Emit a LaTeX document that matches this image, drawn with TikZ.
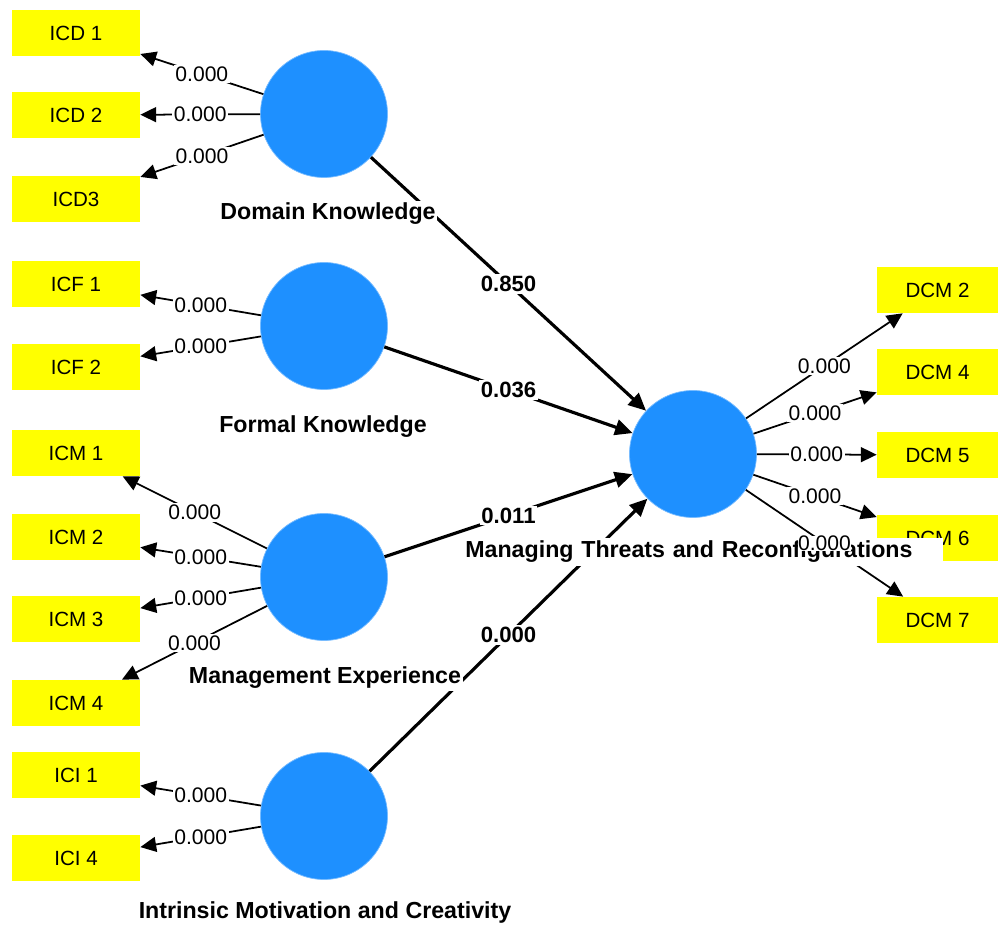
\documentclass[tikz,border=0pt]{standalone}
\usepackage{fontspec}
\setmainfont{Liberation Sans}
\usepackage{xcolor}
\usepackage{tikz}
\usetikzlibrary{arrows.meta}
\usetikzlibrary{positioning}
\definecolor{lvblue}{RGB}{30,144,255}
\definecolor{mvyellow}{RGB}{255,255,0}

\begin{document}
\begin{tikzpicture}[
  ind/.style={rectangle,fill=mvyellow,minimum width=2.56cm,minimum height=0.92cm,inner sep=0pt,font=\fontsize{11.7}{14}\selectfont},
  lv/.style={circle,fill=lvblue,draw=lvblue!60,minimum size=2.54cm,inner sep=0pt},
  lvname/.style={fill=white,inner sep=1pt,font=\fontsize{13.2}{16}\selectfont\bfseries},
  load/.style={fill=white,inner sep=1pt,font=\fontsize{12}{14}\selectfont},
  coef/.style={fill=white,inner sep=1pt,font=\fontsize{12.6}{15}\selectfont\bfseries},
  ldline/.style={-{Triangle[length=9pt,width=8.5pt]},line width=1pt},
  pathline/.style={-{Triangle[length=10pt,width=9pt]},line width=1.8pt}
]
  \useasboundingbox (0,0) rectangle (19.96,18.66);

  % constructs
  \node[lv] (dk)  at (6.48,16.38) {};
  \node[lv] (fk)  at (6.48,12.14) {};
  \node[lv] (me)  at (6.48,7.12)  {};
  \node[lv] (imc) at (6.48,2.34)  {};
  \node[lv] (mt)  at (13.86,9.58) {};

  % indicators, left
  \node[ind] (icd1) at (1.52,18.00) {ICD 1};
  \node[ind] (icd2) at (1.52,16.36) {ICD 2};
  \node[ind] (icd3) at (1.52,14.68) {ICD3};
  \node[ind] (icf1) at (1.52,12.98) {ICF 1};
  \node[ind] (icf2) at (1.52,11.32) {ICF 2};
  \node[ind] (icm1) at (1.52,9.60)  {ICM 1};
  \node[ind] (icm2) at (1.52,7.92)  {ICM 2};
  \node[ind] (icm3) at (1.52,6.28)  {ICM 3};
  \node[ind] (icm4) at (1.52,4.60)  {ICM 4};
  \node[ind] (ici1) at (1.52,3.16)  {ICI 1};
  \node[ind] (ici4) at (1.52,1.50)  {ICI 4};

  % indicators, right
  \node[ind,minimum width=2.42cm] (dcm2) at (18.75,12.86) {DCM 2};
  \node[ind,minimum width=2.42cm] (dcm4) at (18.75,11.22) {DCM 4};
  \node[ind,minimum width=2.42cm] (dcm5) at (18.75,9.56)  {DCM 5};
  \node[ind,minimum width=2.42cm] (dcm6) at (18.75,7.90)  {DCM 6};
  \node[ind,minimum width=2.42cm] (dcm7) at (18.75,6.26)  {DCM 7};

  % outer loadings
  \draw[ldline] (dk) -- (icd1) node[load,midway] {0.000};
  \draw[ldline] (dk) -- (icd2) node[load,midway] {0.000};
  \draw[ldline] (dk) -- (icd3) node[load,midway] {0.000};
  \draw[ldline] (fk) -- (icf1) node[load,midway] {0.000};
  \draw[ldline] (fk) -- (icf2) node[load,midway] {0.000};
  \draw[ldline] (me) -- (icm1) node[load,midway] {0.000};
  \draw[ldline] (me) -- (icm2) node[load,midway] {0.000};
  \draw[ldline] (me) -- (icm3) node[load,midway] {0.000};
  \draw[ldline] (me) -- (icm4) node[load,midway] {0.000};
  \draw[ldline] (imc) -- (ici1) node[load,midway] {0.000};
  \draw[ldline] (imc) -- (ici4) node[load,midway] {0.000};
  \draw[ldline] (mt) -- (dcm2) node[load,midway] {0.000};
  \draw[ldline] (mt) -- (dcm4) node[load,midway] {0.000};
  \draw[ldline] (mt) -- (dcm5) node[load,midway] {0.000};
  \draw[ldline] (mt) -- (dcm6) node[load,midway] {0.000};
  \draw[ldline] (mt) -- (dcm7);

  % inner model
  \draw[pathline] (dk)  -- (mt) node[coef,midway] {0.850};
  \draw[pathline] (fk)  -- (mt) node[coef,midway] {0.036};
  \draw[pathline] (me)  -- (mt) node[coef,midway] {0.011};
  \draw[pathline] (imc) -- (mt) node[coef,midway] {0.000};

  % construct names
  \node[lvname] (dkname)  at (6.56,14.38) {Domain Knowledge};
  \node[lvname] (fkname)  at (6.46,10.12) {Formal Knowledge};
  \node[lvname] (mename)  at (6.50,5.10)  {Management Experience};
  \node[lvname] (imcname) at (6.50,0.40)  {Intrinsic Motivation and Creativity};
  \node[lvname,anchor=west,text width=9.52cm,align=left,inner xsep=0.04cm,minimum height=0.56cm] (mtname) at (9.26,7.62) {Managing Threats and Reconfigurations};
  \path (mt) -- (dcm7) node[load,midway,inner sep=0pt] {0.000};
\end{tikzpicture}
\end{document}
